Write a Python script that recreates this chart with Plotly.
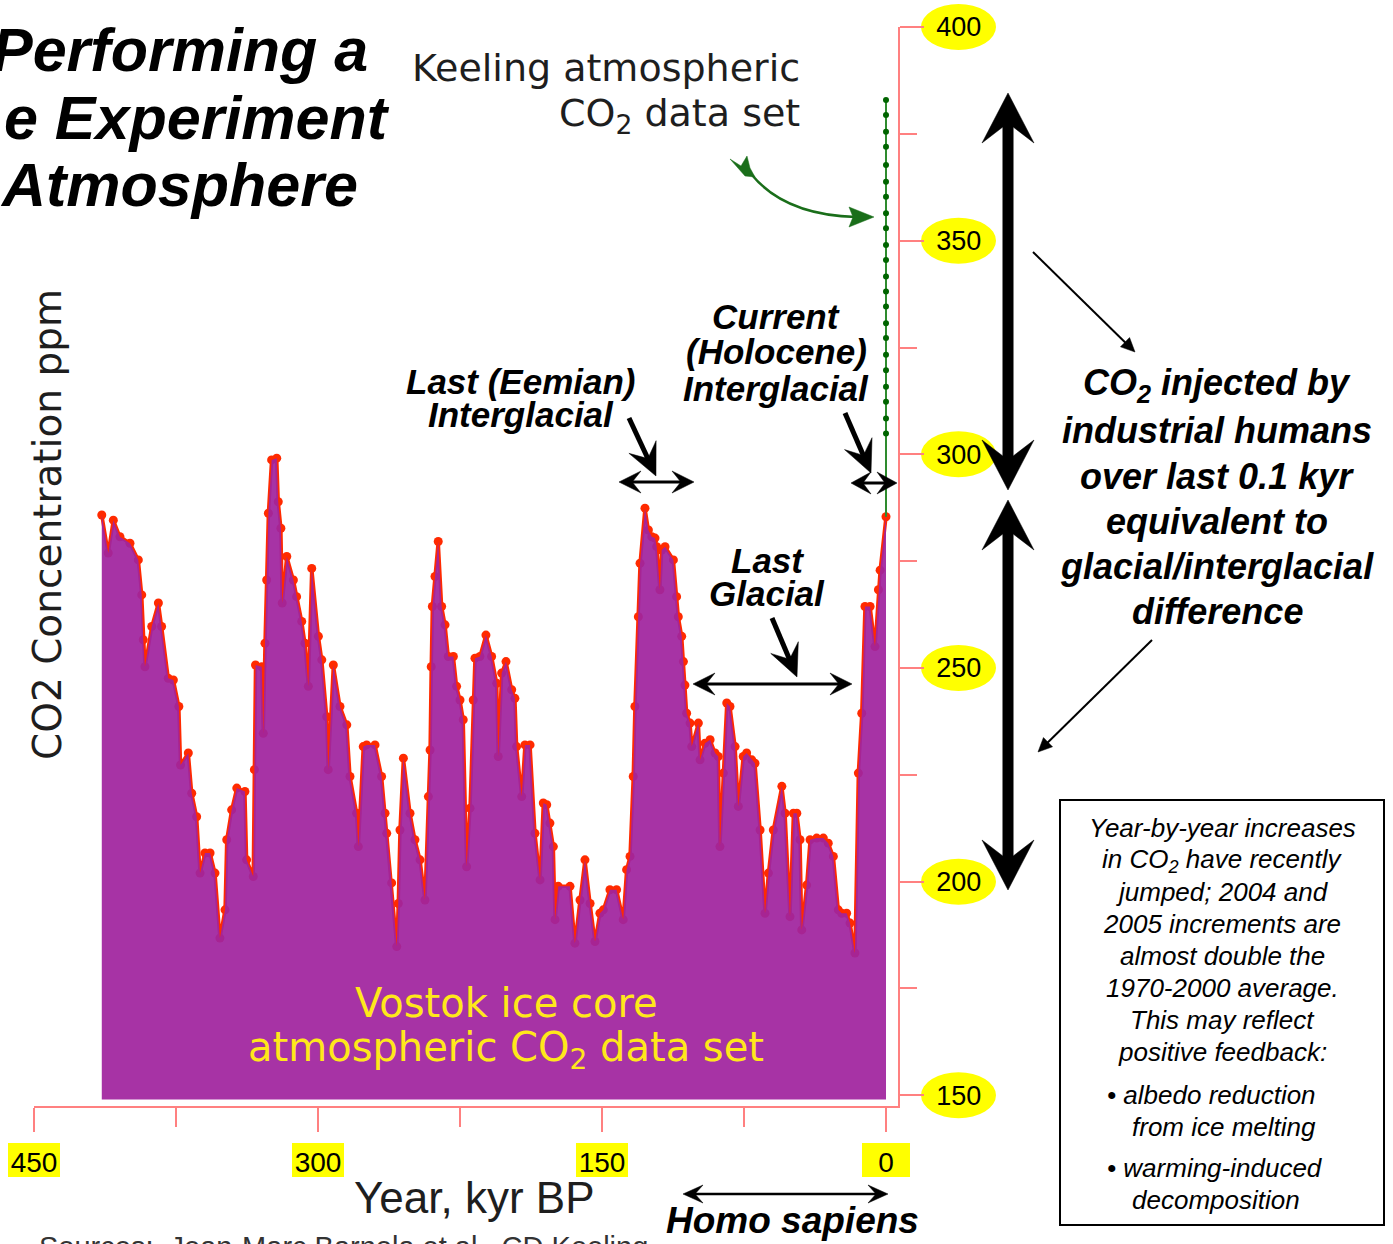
import math
import plotly.graph_objects as go

# ---------------- data ----------------
vostok_kyr = [414.2, 410.8, 408.1, 404.6, 399.3, 394.9, 393.1, 392.3, 391.4, 387.8,
              384.3, 382.6, 379.1, 376.4, 373.5, 372.6, 368.5, 366.7, 364.1, 362.3,
              359.7, 357.0, 354.4, 351.8, 349.1, 348.2, 345.6, 342.9, 338.6, 337.7,
              334.2, 333.6, 333.0, 329.7, 328.9, 328.0, 327.1, 326.2, 324.5, 321.8,
              321.0, 319.6, 318.9, 316.5, 313.0, 311.3, 308.6, 306.9, 305.1, 303.3,
              299.8, 298.0, 295.4, 294.6, 291.9, 288.4, 284.8, 283.1, 279.6, 278.7,
              276.1, 274.3, 269.9, 266.4, 264.6, 263.7, 261.1, 258.4, 257.6, 256.7,
              254.9, 251.4, 248.8, 246.1, 243.5, 241.7, 240.8, 240.2, 239.6, 238.2,
              236.5, 234.7, 232.9, 231.2, 228.5, 226.8, 225.0, 223.3, 221.5, 219.7,
              218.0, 217.1, 214.5, 211.3, 208.3, 205.6, 204.8, 203.0, 200.7, 197.7,
              196.0, 195.1, 192.4, 190.7, 188.0, 185.4, 182.7, 181.0, 179.2, 177.5,
              175.7, 174.8, 173.1, 166.9, 164.3, 161.6, 159.0, 156.3, 153.7, 151.1,
              149.3, 145.8, 142.3, 138.8, 137.0, 135.2, 133.5, 132.6, 130.8, 129.9,
              127.3, 125.5, 123.7, 122.0, 121.1, 119.4, 118.5, 116.7, 112.3, 110.6,
              109.7, 107.9, 107.0, 106.2, 105.3, 103.5, 102.6, 99.1, 98.2, 95.6,
              92.9, 90.3, 88.6, 87.7, 85.9, 84.1, 82.4, 79.7, 78.0, 75.4,
              73.6, 70.9, 69.2, 66.5, 63.9, 62.1, 59.5, 55.0, 53.3, 50.7,
              48.9, 47.1, 45.4, 44.5, 41.9, 40.1, 36.6, 33.1, 30.5, 27.8,
              25.2, 23.4, 20.8, 19.0, 16.4, 14.6, 12.8, 11.1, 8.4, 5.8,
              4.0, 3.1, 0.0]
vostok_ppm = [285.8, 276.9, 284.6, 280.7, 279.2, 275.3, 267.1, 256.6, 250.3, 259.7,
              265.2, 259.7, 247.6, 247.2, 241.0, 227.3, 230.1, 220.7, 215.2, 202.0,
              206.7, 206.7, 202.0, 186.8, 193.4, 209.8, 216.8, 221.9, 221.1, 205.1,
              201.2, 226.2, 250.7, 250.3, 234.7, 255.8, 270.6, 286.2, 298.7, 299.1,
              288.9, 282.7, 265.2, 276.1, 270.6, 266.7, 260.9, 255.8, 245.7, 273.3,
              257.4, 251.9, 238.6, 226.2, 250.7, 241.0, 236.7, 224.6, 216.0, 208.2,
              231.6, 232.0, 232.0, 224.6, 216.0, 211.3, 199.7, 184.8, 194.9, 212.1,
              228.9, 216.0, 209.8, 205.1, 195.7, 219.9, 230.8, 250.3, 264.4, 271.4,
              279.6, 264.4, 260.1, 252.7, 252.7, 245.7, 242.5, 237.9, 203.5, 217.2,
              242.5, 252.3, 252.7, 257.7, 252.7, 246.4, 229.3, 248.8, 251.5, 244.9,
              242.9, 231.6, 219.9, 232.0, 232.0, 211.3, 200.4, 218.4, 218.0, 213.7,
              208.2, 191.1, 198.9, 198.9, 185.6, 195.7, 205.1, 194.9, 186.0, 192.6,
              193.4, 198.1, 198.1, 191.1, 202.8, 205.9, 224.6, 241.0, 262.0, 274.5,
              287.4, 282.3, 280.7, 280.4, 278.4, 268.3, 277.6, 278.4, 275.3, 266.7,
              262.0, 257.4, 251.5, 246.0, 239.4, 237.1, 231.6, 237.1, 228.5, 232.4,
              233.2, 230.1, 229.3, 208.2, 225.4, 241.8, 241.0, 231.6, 217.6, 229.3,
              230.1, 228.5, 227.7, 212.1, 192.6, 202.0, 212.1, 222.3, 216.0, 191.8,
              216.0, 216.0, 209.8, 188.7, 199.2, 209.8, 210.2, 210.2, 209.0, 205.9,
              193.4, 192.6, 192.6, 190.3, 183.3, 225.4, 239.4, 264.4, 264.4, 255.0,
              268.3, 272.9, 285.4]

keeling_ppm = [304.9, 308.4, 312.3, 315.8, 319.7, 323.3, 327.2, 330.7, 334.6, 338.1,
               341.6, 345.5, 349.0, 352.9, 356.4, 360.3, 363.8, 367.7, 372.0, 375.5,
               379.4, 382.9]
keeling_kyr = [0.0] * len(keeling_ppm)

base_ppm = 149.0
y_ticks = [150, 200, 250, 300, 350, 400]
x_ticks = [450, 300, 150, 0]
x_tick_text = ["450", "300", "150", "0"]

# ---------------- geometry helpers ----------------
W, H = 1393, 1244
L, R, T, B = 34, 898, 27, 1106
X0, X1 = 450.0, -6.34
Y0, Y1 = 147.5, 400.0


def px(X):
    return (X - L) / (R - L)


def py(Y):
    return (B - Y) / (B - T)


def xp_val(v):
    return (X0 - v) / (X0 - X1)


def yp_val(v):
    return (v - Y0) / (Y1 - Y0)


PINK = "#ff8080"
RED = "#ff2a00"
PURPLE_FILL = "rgba(160,36,158,0.93)"

fig = go.Figure()

# red line + markers (drawn first, the fill is laid over it)
fig.add_trace(go.Scatter(x=vostok_kyr, y=vostok_ppm, mode="lines+markers",
                         line=dict(color=RED, width=3.5),
                         marker=dict(color=RED, size=9),
                         hoverinfo="skip", showlegend=False))
# baseline for the fill
fig.add_trace(go.Scatter(x=[vostok_kyr[0], vostok_kyr[-1]], y=[base_ppm, base_ppm],
                         mode="lines", line=dict(width=0, color="rgba(0,0,0,0)"),
                         hoverinfo="skip", showlegend=False))
# purple area
fig.add_trace(go.Scatter(x=vostok_kyr, y=vostok_ppm, mode="lines", fill="tonexty",
                         fillcolor=PURPLE_FILL, line=dict(width=0, color="rgba(0,0,0,0)"),
                         hoverinfo="skip", showlegend=False))
# Keeling line (joins the end of the ice-core record)
fig.add_trace(go.Scatter(x=[vostok_kyr[-1]] + keeling_kyr, y=[vostok_ppm[-1]] + keeling_ppm,
                         mode="lines", line=dict(color="#2e8b2e", width=2),
                         hoverinfo="skip", showlegend=False))
fig.add_trace(go.Scatter(x=keeling_kyr, y=keeling_ppm, mode="markers",
                         marker=dict(color="#006400", size=6),
                         hoverinfo="skip", showlegend=False))

fig.update_layout(
    width=W, height=H,
    margin=dict(l=L, r=W - R, t=T, b=H - B),
    paper_bgcolor="white", plot_bgcolor="white",
    showlegend=False,
    xaxis=dict(range=[X0, X1], showgrid=False, zeroline=False,
               showline=True, linecolor=PINK, linewidth=1.5,
               ticks="outside", ticklen=24, tickwidth=1.5, tickcolor=PINK,
               tickvals=x_ticks, ticktext=x_tick_text,
               tickfont=dict(family="Liberation Sans, Arial", size=28, color="black"),
               ticklabelstandoff=7,
               minor=dict(dtick=75, tick0=0, ticks="outside", ticklen=19,
                          tickwidth=1.5, tickcolor=PINK, showgrid=False)),
    yaxis=dict(range=[Y0, Y1], side="right", showgrid=False, zeroline=False,
               showline=True, linecolor=PINK, linewidth=1.5,
               ticks="outside", ticklen=24, tickwidth=1.5, tickcolor=PINK,
               tickvals=y_ticks,
               tickfont=dict(family="Liberation Sans, Arial", size=27, color="black"),
               ticklabelstandoff=7,
               minor=dict(dtick=25, tick0=0, ticks="outside", ticklen=17,
                          tickwidth=1.5, tickcolor=PINK, showgrid=False)),
)

# yellow ellipses behind y tick labels, rectangles behind x tick labels
for v in y_ticks:
    yc = yp_val(v)
    hh = 23 / (B - T)
    fig.add_shape(type="circle", xref="paper", yref="paper",
                  x0=px(921), x1=px(996), y0=yc - hh, y1=yc + hh,
                  fillcolor="#ffff00", line=dict(width=0), layer="below")
for v in x_ticks:
    xc = xp_val(v)
    hw = (26 if v != 0 else 24) / (R - L)
    fig.add_shape(type="rect", xref="paper", yref="paper",
                  x0=xc - hw, x1=xc + hw, y0=py(1177), y1=py(1143),
                  fillcolor="#ffff00", line=dict(width=0), layer="below")


def txt(s, x, y, size, family="Liberation Sans, Arial", color="black",
        xanchor="center", angle=0):
    fig.add_annotation(text=s, x=px(x), y=py(y), xref="paper", yref="paper",
                       xanchor=xanchor, yanchor="middle", showarrow=False,
                       textangle=angle, font=dict(family=family, size=size, color=color))


def poly(points, color):
    fig.add_shape(type="path", xref="paper", yref="paper",
                  path="M " + " L ".join("%f,%f" % (px(a), py(b)) for a, b in points) + " Z",
                  fillcolor=color, line=dict(color=color, width=0.5))


def arrow(tip, tail, width, hl, hw, notch=0.6, double=False, color="black"):
    """Arrow drawn from shapes: a shaft and a (barbed) triangular head."""
    def head(tp, tl):
        dx, dy = tp[0] - tl[0], tp[1] - tl[1]
        n = math.hypot(dx, dy)
        ux, uy = dx / n, dy / n
        nx, ny = -uy, ux
        bx, by = tp[0] - ux * hl, tp[1] - uy * hl
        poly([tp, (bx + nx * hw / 2, by + ny * hw / 2),
              (tp[0] - ux * hl * notch, tp[1] - uy * hl * notch),
              (bx - nx * hw / 2, by - ny * hw / 2)], color)
        return (tp[0] - ux * hl * notch * 0.95, tp[1] - uy * hl * notch * 0.95)
    a = head(tip, tail)
    b = head(tail, tip) if double else tail
    fig.add_shape(type="line", xref="paper", yref="paper",
                  x0=px(b[0]), y0=py(b[1]), x1=px(a[0]), y1=py(a[1]),
                  line=dict(color=color, width=width))


BI = lambda s: "<b><i>" + s + "</i></b>"
GOTH = "DejaVu Sans"

# title (cropped at the left edge in the reference)
txt(BI("Performing a"), 370, 50, 61, xanchor="right")
txt(BI("e Experiment"), 392, 118, 61, xanchor="right")
txt(BI("Atmosphere"), 360, 185, 61, xanchor="right")

# Keeling label
txt("Keeling atmospheric", 802, 68, 38, family=GOTH, color="#1e1e1e", xanchor="right")
txt("CO<sub>2</sub> data set", 802, 115, 38, family=GOTH, color="#1e1e1e", xanchor="right")

# green curved arrow
GREEN = "#1a6e1a"
pts = [(752, 175), (785, 215), (856, 217)]
fig.add_shape(type="path", xref="paper", yref="paper",
              path="M %f,%f Q %f,%f %f,%f" % (px(pts[0][0]), py(pts[0][1]),
                                              px(pts[1][0]), py(pts[1][1]),
                                              px(pts[2][0]), py(pts[2][1])),
              line=dict(color=GREEN, width=2.5))
poly([(874, 217), (849, 207), (853, 217), (849, 227)], GREEN)
poly([(730, 159), (741, 166), (747, 156), (750, 168), (755, 177), (745, 176)], GREEN)

# axis titles
txt("CO2 Concentration ppm", 47, 525, 39, family=GOTH, color="#1e1e1e", angle=-90)
txt("Year, kyr BP", 475, 1197, 44, color="#1e1e1e")
txt("Sources:  Jean-Marc Barnola et al., CD Keeling", 37, 1247, 29, color="#333333",
    xanchor="left")

# Vostok label
txt("Vostok ice core", 506, 1003, 40, family=GOTH, color="#ffe81a")
txt("atmospheric CO<sub>2</sub> data set", 506, 1050, 40, family=GOTH, color="#ffe81a")

# period labels
txt(BI("Last (Eemian)"), 521, 381, 35)
txt(BI("Interglacial"), 521, 414, 35)
txt(BI("Current"), 776, 317, 35)
txt(BI("(Holocene)"), 776, 351, 35)
txt(BI("Interglacial"), 776, 388, 35)
txt(BI("Last"), 767, 560, 35)
txt(BI("Glacial"), 767, 593, 35)
txt(BI("Homo sapiens"), 792, 1220, 37)

# right-hand statement
for s, yy in zip(["CO<sub>2</sub> injected by", "industrial humans", "over last 0.1 kyr",
                  "equivalent to", "glacial/interglacial", "difference"],
                 [385, 430, 476, 521, 566, 611]):
    txt(BI(s), 1217, yy, 36)

# box
fig.add_shape(type="rect", xref="paper", yref="paper",
              x0=px(1060), x1=px(1384), y0=py(1225), y1=py(800),
              line=dict(color="black", width=2), fillcolor="rgba(0,0,0,0)")
box_lines = ["Year-by-year increases", "in CO<sub>2</sub> have recently", "jumped; 2004 and",
             "2005 increments are", "almost double the", "1970-2000 average.",
             "This may reflect", "positive feedback:"]
for i, s in enumerate(box_lines):
    txt("<i>" + s + "</i>", 1222, 828 + 32 * i, 26)
txt("<i>• albedo reduction</i>", 1105, 1095, 26, xanchor="left")
txt("<i>from ice melting</i>", 1130, 1127, 26, xanchor="left")
txt("<i>• warming-induced</i>", 1105, 1168, 26, xanchor="left")
txt("<i>decomposition</i>", 1130, 1200, 26, xanchor="left")

# black arrows
arrow((1008, 93), (1008, 490), 11, 50, 52, double=True)
arrow((1008, 500), (1008, 890), 11, 50, 52, double=True)
arrow((1135, 352), (1033, 252), 2, 14, 13, notch=1.0)
arrow((1038, 752), (1152, 640), 2, 14, 13, notch=1.0)
arrow((656, 476), (629, 418), 5, 32, 30)
arrow((871, 473), (845, 413), 5, 32, 30)
arrow((797, 677), (772, 618), 5, 32, 30)
arrow((694, 482), (619, 482), 3, 22, 22, double=True)
arrow((897, 483), (851, 483), 3, 20, 22, double=True)
arrow((852, 684), (693, 684), 3, 22, 22, double=True)
arrow((888, 1194), (683, 1194), 2.5, 20, 18, double=True)

fig.write_html("out.html", config={"displayModeBar": False},
               post_script="document.body.style.margin='0px';")
